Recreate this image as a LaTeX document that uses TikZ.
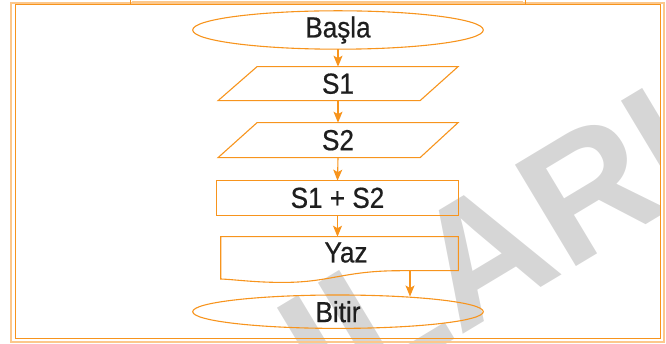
\documentclass[tikz,border=0pt]{standalone}
\usepackage{fontspec}
\setmainfont{Liberation Sans}
\newfontfamily\lblfont{Liberation Sans}[FakeBold=0.6, FakeStretch=0.9]
\usetikzlibrary{arrows.meta,shapes.geometric,calc}
\definecolor{orn}{RGB}{247,148,29}
\definecolor{lorn}{RGB}{252,200,140}
\definecolor{wmgray}{RGB}{214,214,214}
\definecolor{ink}{RGB}{30,30,30}
\tikzset{
  shp/.style={draw=orn, line width=1.1pt},
  box/.style={inner sep=0pt, outer sep=0pt, text=ink, font=\lblfont\fontsize{29}{29}\selectfont},
  oval/.style={box, shp, ellipse, minimum width=290.6pt, minimum height=33.4pt},
  arr/.style={draw=orn, line width=1.1pt, -{Stealth[length=11pt,width=9pt,inset=2.5pt]}},
  wmtext/.style={inner sep=0pt, outer sep=0pt, text=wmgray, font=\bfseries\fontsize{172}{172}\selectfont}
}
\begin{document}
\begin{tikzpicture}[x=1pt,y=-1pt]
\useasboundingbox (0,0) rectangle (666,344);
% watermark
\begin{scope}
  \clip (0,0) rectangle (660.5,344);
  \node[wmtext, anchor=base west, rotate=31] (wm) at (328.9,415.6) {ILARI};
\end{scope}
% frame
\draw[lorn, line width=1.4pt] (11,3) rectangle (664,342);
\draw[orn, line width=0.9pt] (15,4.7) rectangle (660.5,338);
\draw[orn, line width=0.9pt] (130,-5) rectangle (525,4.7);
\draw[lorn, line width=1.2pt] (132,1.5) -- (523,1.5);
% nodes
\node[oval] (basla) at (338,30) {\raisebox{-1.5pt}{Başla}};
\node[box, minimum width=240pt, minimum height=34pt] (s1) at (338,83.7) {\raisebox{-2pt}{S1}};
\node[box, minimum width=240pt, minimum height=35pt] (s2) at (338,140.2) {\raisebox{-1.5pt}{S2}};
\node[box, shp, minimum width=241.6pt, minimum height=34.5pt] (sum) at (337.5,197.9) {\raisebox{-1.5pt}{S1 + S2}};
\node[box, minimum width=237.6pt, minimum height=34pt] (yaz) at (339.5,253.7) {\hspace*{13pt}\raisebox{2.5pt}{Yaz}};
\node[oval] (bitir) at (338,311.7) {Bitir};
% parallelograms
\draw[shp] ($(s1.north west)+(39,0)$) -- (s1.north east) -- ($(s1.south east)+(-38,0)$) -- (s1.south west) -- cycle;
\draw[shp] ($(s2.north west)+(39,0)$) -- (s2.north east) -- ($(s2.south east)+(-38,0)$) -- (s2.south west) -- cycle;
% document shape
\draw[shp] (yaz.south east) -- (yaz.north east) -- (yaz.north west) -- (220.7,279)
  .. controls (235,279.5) and (255,282.6) .. (285,282.4)
  .. controls (330,282.2) and (345,270.7) .. (400,270.7) -- cycle;
% connectors
\draw[arr] (basla.south) -- (s1.north);
\draw[arr] (s1.south) -- (s2.north);
\draw[arr] (s2.south) -- (sum.north);
\draw[arr] (sum.south) -- (yaz.north -| sum.south);
\coordinate (yo) at (410,270.7);
\draw[arr] (yo) -- ($(yo |- bitir.north)+(0,1.5)$);
\end{tikzpicture}
\end{document}
